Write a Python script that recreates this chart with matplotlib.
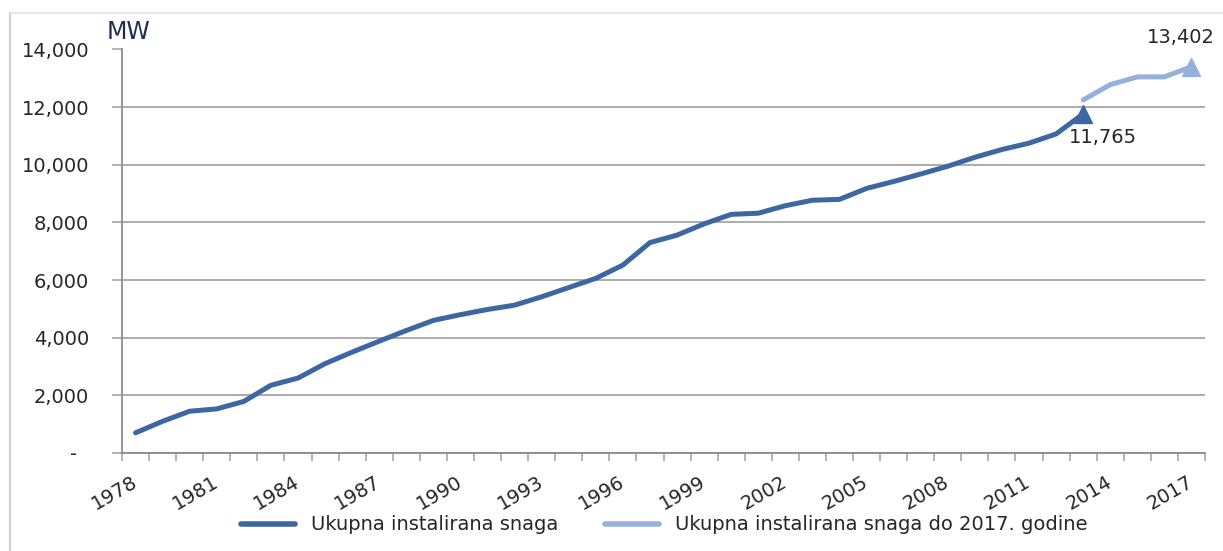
import matplotlib
matplotlib.use("Agg")
import matplotlib.pyplot as plt
from matplotlib.lines import Line2D
from matplotlib.ticker import FixedLocator, FuncFormatter

# installed capacity (MW), historical series
years_hist = list(range(1978, 2014))
mw_hist = [
    700, 1100, 1450, 1530, 1790, 2350, 2600, 3100, 3500, 3880,
    4250, 4600, 4800, 4980, 5130, 5420, 5740, 6060, 6520, 7300,
    7560, 7950, 8280, 8320, 8580, 8770, 8800, 9180, 9420, 9680,
    9950, 10260, 10530, 10750, 11070, 11765,
]

# planned capacity up to 2017
years_plan = [2013, 2014, 2015, 2016, 2017]
mw_plan = [12250, 12780, 13050, 13050, 13402]

label_years = list(range(1978, 2018, 3))
labels = ["Ukupna instalirana snaga", "Ukupna instalirana snaga do 2017. godine"]

dark = "#3c67a2"
light = "#95b0dc"
grid_c = "#a6a6a6"
text_c = "#262626"

plt.rcParams["font.family"] = "DejaVu Sans"

fig = plt.figure(figsize=(12.23, 5.51), dpi=100)
ax = fig.add_axes([122 / 1223, 1 - 453 / 551, (1205 - 122) / 1223, (453 - 49.5) / 551])

ax.plot(years_hist, mw_hist, color=dark, lw=3.6, solid_capstyle="round",
        marker="^", markevery=[-1], markersize=13, label=labels[0])
ax.plot(years_plan, mw_plan, color=light, lw=3.6, solid_capstyle="round",
        marker="^", markevery=[-1], markersize=13, label=labels[1])

ax.annotate(f"{mw_hist[-1]:,}", (years_hist[-1], mw_hist[-1]), xytext=(14, -17),
            textcoords="offset points", ha="center", va="center", fontsize=14, color=text_c)
ax.annotate(f"{mw_plan[-1]:,}", (years_plan[-1], mw_plan[-1]), xytext=(-8, 21),
            textcoords="offset points", ha="center", va="center", fontsize=14, color=text_c)

ax.set_xlim(1977.5, 2017.5)
ax.set_ylim(0, 14000)

# y axis
ax.set_yticks(range(0, 14001, 2000))
ax.yaxis.set_major_formatter(FuncFormatter(lambda v, p: "-  " if v == 0 else f"{v:,.0f}"))
ax.tick_params(axis="y", length=7, color=grid_c, width=1.2, pad=16.5, labelsize=14, labelcolor=text_c)
ax.grid(axis="y", color=grid_c, lw=1.3)
ax.set_axisbelow(True)

# x axis: ticks between categories, labels every 3 years
ax.xaxis.set_major_locator(FixedLocator([y - 0.5 for y in range(1978, 2019)]))
ax.xaxis.set_major_formatter(FuncFormatter(lambda v, p: ""))
ax.xaxis.set_minor_locator(FixedLocator(label_years))
ax.xaxis.set_minor_formatter(FuncFormatter(lambda v, p: f"{int(round(v))}"))
ax.tick_params(axis="x", which="major", length=6, color=grid_c, width=1.2)
ax.tick_params(axis="x", which="minor", length=0, pad=20, labelsize=14, labelcolor=text_c)
for t in ax.get_xticklabels(minor=True):
    t.set_rotation(30)
    t.set_ha("right")
    t.set_va("center")
    t.set_rotation_mode("anchor")

for side in ["top", "right"]:
    ax.spines[side].set_visible(False)
for side in ["left", "bottom"]:
    ax.spines[side].set_color("#8c8c8c")
    ax.spines[side].set_linewidth(1.3)

fig.text(107 / 1223, 1 - 32 / 551, "MW", fontsize=17, color="#1f2d50", ha="left", va="center")

leg = fig.legend(loc="center", bbox_to_anchor=(664 / 1223, 1 - 525 / 551), ncol=2,
                 frameon=False, fontsize=14, handlelength=2.8, handletextpad=0.8,
                 columnspacing=2.4, borderpad=0)
for h in leg.legend_handles:
    h.set_marker("")
    h.set_linewidth(4)
for t in leg.get_texts():
    t.set_color(text_c)

# chart area frame (left and top edges visible)
fig.add_artist(Line2D([9.5 / 1223, 9.5 / 1223], [0, 1 - 12.7 / 551], color="#cfcfcf", lw=1.5))
fig.add_artist(Line2D([9.5 / 1223, 1], [1 - 12.7 / 551, 1 - 12.7 / 551], color="#e3e3e3", lw=1.2))

fig.savefig("out.png", dpi=100, facecolor="white")
